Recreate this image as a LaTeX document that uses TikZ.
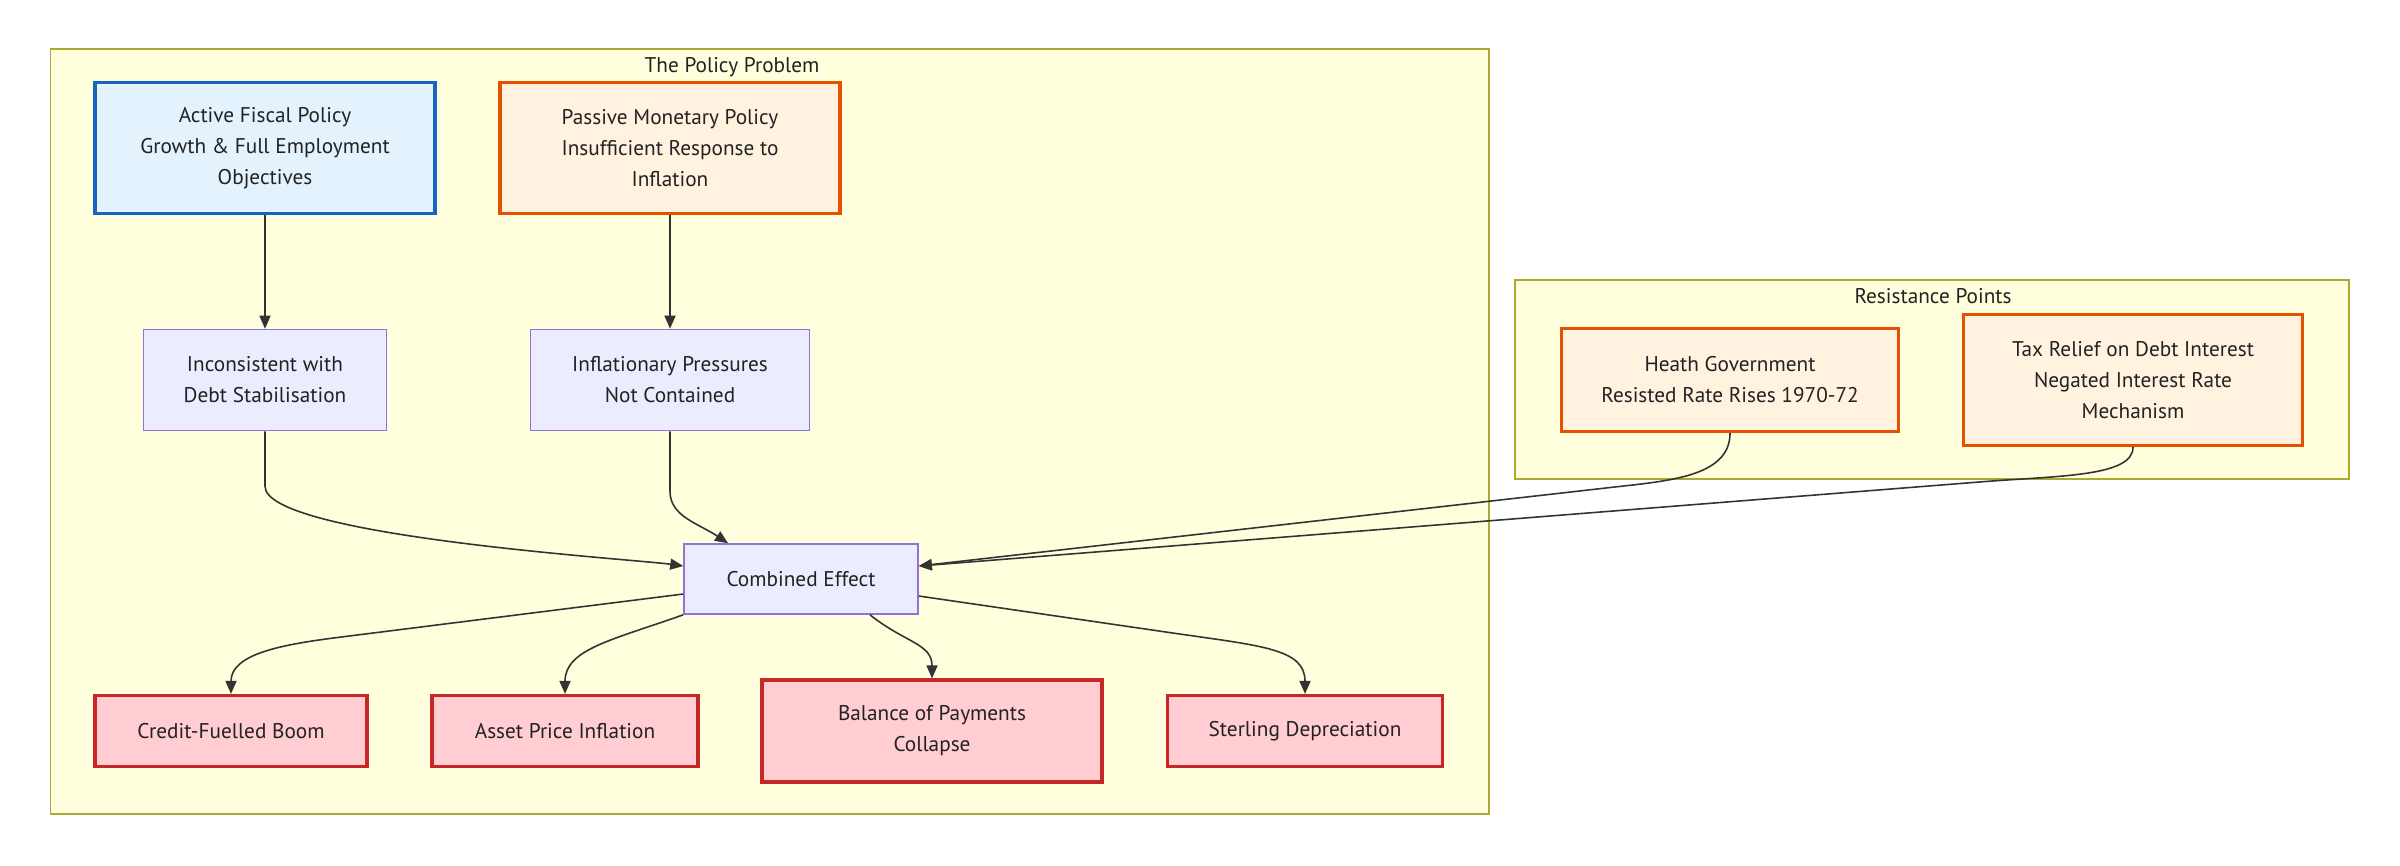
\documentclass[tikz,border=0pt]{standalone}
\usepackage{fontspec}
\setmainfont{PT Sans}
\usetikzlibrary{arrows.meta}

\definecolor{blueline}{HTML}{1565C0}
\definecolor{bluefill}{HTML}{E3F2FD}
\definecolor{orangeline}{HTML}{E65100}
\definecolor{orangefill}{HTML}{FFF3E0}
\definecolor{redline}{HTML}{C62828}
\definecolor{redfill}{HTML}{FFCDD2}
\definecolor{purpleline}{HTML}{9370DB}
\definecolor{purplefill}{HTML}{ECECFF}
\definecolor{groupline}{HTML}{AAAA33}
\definecolor{groupfill}{HTML}{FFFFDE}
\definecolor{edgegray}{HTML}{333333}
\definecolor{labelgray}{HTML}{222222}

\begin{document}
\begin{tikzpicture}[
        every node/.style={font=\fontsize{6.05}{8.8}\selectfont, text=labelgray},
        box/.style={
            rectangle,
            draw,
            align=center,
            inner sep=0pt
        },
        fiscal/.style={
            box,
            draw=blueline,
            fill=bluefill,
            line width=0.9pt
        },
        passive/.style={
            box,
            draw=orangeline,
            fill=orangefill,
            line width=0.9pt
        },
        effect/.style={
            box,
            draw=purpleline,
            fill=purplefill,
            line width=0.45pt
        },
        outcome/.style={
            box,
            draw=redline,
            fill=redfill,
            line width=0.9pt
        },
        group/.style={draw=groupline, fill=groupfill, line width=0.45pt},
        flow/.style={draw=edgegray, line width=0.45pt, -{Triangle[length=1.3mm, width=1.1mm]}}
    ]
    \useasboundingbox (0,0) rectangle (24,-8.65);

    % Clusters
    \draw[group] (0.505,-0.49) rectangle (14.89,-8.14);
    \node (policytitle) at (7.32,-0.67) {The Policy Problem};
    \draw[group] (15.15,-2.80) rectangle (23.49,-4.79);
    \node (resisttitle) at (19.33,-2.96) {Resistance Points};

    % Policy problem
    \node[fiscal, minimum width=3.40cm, minimum height=1.31cm] (activefiscal) at (2.65,-1.48)
        {Active Fiscal Policy\\Growth \& Full Employment\\Objectives};
    \node[passive, minimum width=3.40cm, minimum height=1.31cm] (passivemon) at (6.70,-1.48)
        {Passive Monetary Policy\\Insufficient Response to\\Inflation};
    \node[effect, minimum width=2.43cm, minimum height=1.01cm] (inconsistent) at (2.65,-3.80)
        {Inconsistent with\\Debt Stabilisation};
    \node[effect, minimum width=2.79cm, minimum height=1.01cm] (inflpress) at (6.70,-3.80)
        {Inflationary Pressures\\Not Contained};
    \node[effect, minimum width=2.34cm, minimum height=0.70cm] (combined) at (8.01,-5.79)
        {Combined Effect};

    \draw[flow] (activefiscal) -- (inconsistent);
    \draw[flow] (passivemon) -- (inflpress);
    \draw[flow] (inconsistent.south) -- ++(0,-0.55) .. controls +(0,-0.5) and +(-0.5,0.07) .. ([yshift=1.3mm]combined.west);
    \draw[flow] (inflpress.south) -- ++(0,-0.6) .. controls +(0,-0.25) and +(-0.3,0.2) .. ([xshift=-7.3mm]combined.north);

    % Outcomes
    \node[outcome, minimum width=2.72cm, minimum height=0.71cm] (credit) at (2.31,-7.31) {Credit-Fuelled Boom};
    \node[outcome, minimum width=2.66cm, minimum height=0.71cm] (asset) at (5.65,-7.31) {Asset Price Inflation};
    \node[outcome, minimum width=3.40cm, minimum height=1.02cm] (bop) at (9.32,-7.31) {Balance of Payments\\Collapse};
    \node[outcome, minimum width=2.75cm, minimum height=0.71cm] (sterling) at (13.05,-7.31) {Sterling Depreciation};

    \draw[flow] ([yshift=-1.5mm]combined.west) -- ++(-3.42,-0.43) .. controls +(-0.6,-0.075) and +(0,0.4) .. (credit.north);
    \draw[flow] (combined.south west) .. controls +(-0.7,-0.25) and +(0,0.45) .. (asset.north);
    \draw[flow] ([xshift=6.9mm]combined.south) .. controls +(0.35,-0.28) and +(0,0.35) .. (bop.north);
    \draw[flow] ([yshift=-1.7mm]combined.east) -- ++(2.54,-0.37) .. controls +(0.9,-0.13) and +(0,0.45) .. (sterling.north);

    % Resistance points
    \node[passive, minimum width=3.37cm, minimum height=1.03cm] (heath) at (17.30,-3.80)
        {Heath Government\\Resisted Rate Rises 1970-72};
    \node[passive, minimum width=3.39cm, minimum height=1.31cm] (taxrelief) at (21.33,-3.80)
        {Tax Relief on Debt Interest\\Negated Interest Rate\\Mechanism};

    \draw[flow] (heath.south) .. controls +(0,-0.45) and +(0.6,0.07) .. ++(-1.25,-0.55) -- ([yshift=1.3mm]combined.east);
    \draw[flow] (taxrelief.south) .. controls +(0,-0.3) and +(0.8,0.065) .. ++(-1.55,-0.35) -- ([yshift=1.3mm]combined.east);
\end{tikzpicture}
\end{document}
